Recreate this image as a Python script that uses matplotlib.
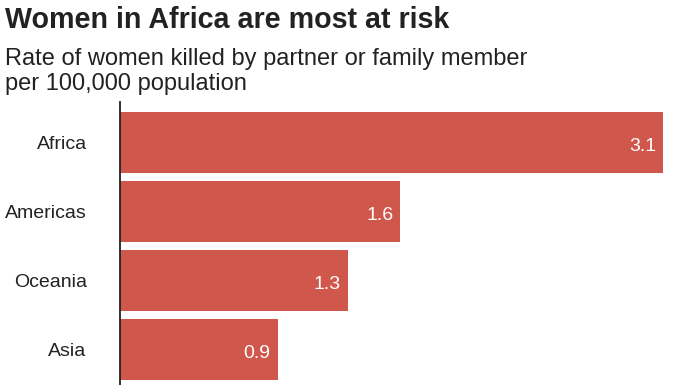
import matplotlib
matplotlib.use("Agg")
import matplotlib.pyplot as plt

categories = ["Africa", "Americas", "Oceania", "Asia"]
values = [3.1, 1.6, 1.3, 0.9]
value_labels = ["3.1", "1.6", "1.3", "0.9"]

title = "Women in Africa are most at risk"
subtitle_lines = ["Rate of women killed by partner or family member", "per 100,000 population"]

W, H = 696, 385
fig = plt.figure(figsize=(W / 100, H / 100), dpi=100)
plt.rcParams['font.family'] = ['Liberation Sans', 'DejaVu Sans']

bar_color = "#D0574C"
text_color = "#222222"

ax_left, ax_right = 120, 663
ax_top, ax_bottom = 102, 385
ax = fig.add_axes([ax_left / W, 1 - ax_bottom / H, (ax_right - ax_left) / W, (ax_bottom - ax_top) / H])

ypos = list(range(len(categories)))
ax.barh(ypos, values, height=0.884, color=bar_color, edgecolor="none")
ax.set_xlim(0, 3.1)
ax.set_ylim(3.514, -0.587)

for spine in ["top", "right", "bottom"]:
    ax.spines[spine].set_visible(False)
ax.spines["left"].set_color(text_color)
ax.spines["left"].set_linewidth(1.3)
ax.set_xticks([])
ax.set_yticks(ypos)
ax.set_yticklabels(categories, fontsize=14, color=text_color, va="center_baseline")
ax.tick_params(axis="y", length=0, pad=24)

for y, v, lab in zip(ypos, values, value_labels):
    ax.annotate(lab, xy=(v, y), xytext=(-7, -2), textcoords="offset pixels",
                ha="right", va="center_baseline", color="white", fontsize=14)

fig.text(5 / W, 1 - 28 / H, title, fontsize=20.6, fontweight="bold", color=text_color,
         ha="left", va="baseline")
fig.text(5 / W, 1 - 65 / H, subtitle_lines[0],
         fontsize=17, color=text_color, ha="left", va="baseline")
fig.text(5 / W, 1 - 90 / H, subtitle_lines[1],
         fontsize=17, color=text_color, ha="left", va="baseline")

fig.savefig("out.png", dpi=100)
